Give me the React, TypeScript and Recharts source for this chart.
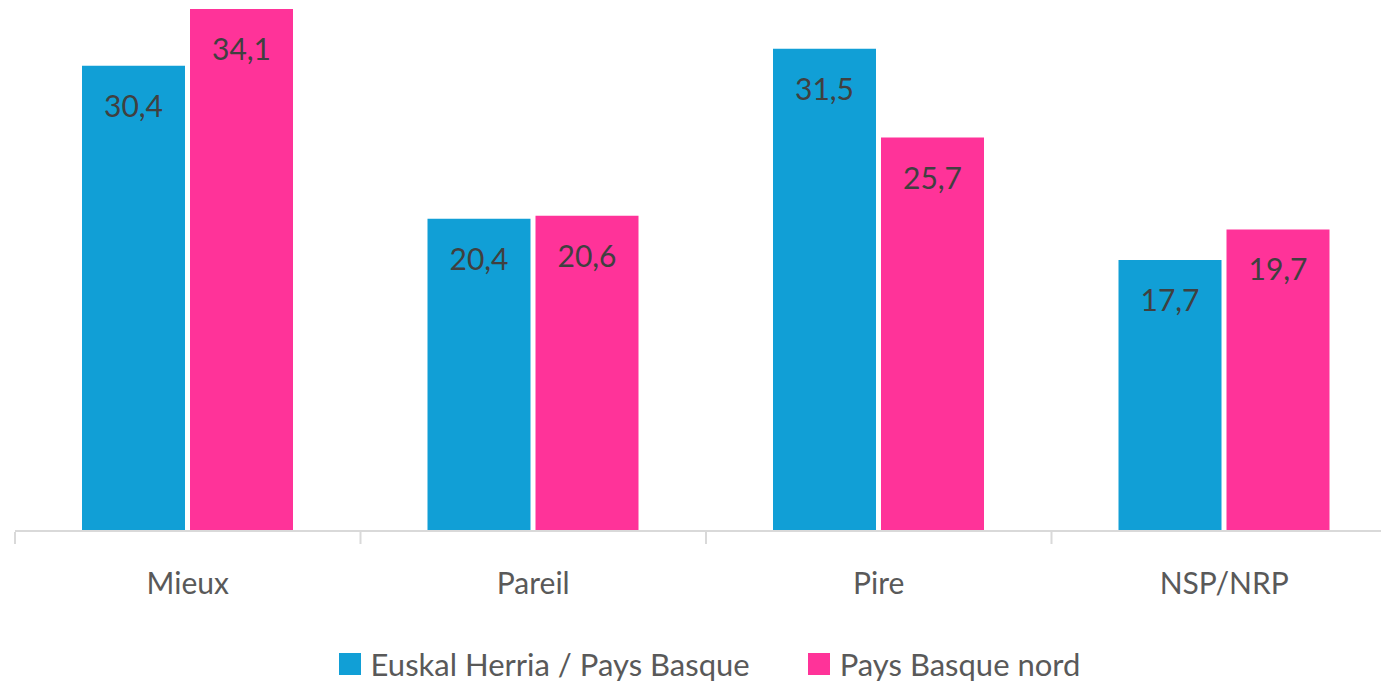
import React from "react";
import { BarChart, Bar, XAxis, YAxis, Legend, LabelList } from "recharts";

const categories = ["Mieux", "Pareil", "Pire", "NSP/NRP"];
const euskalHerria = [30.4, 20.4, 31.5, 17.7];
const paysBasqueNord = [34.1, 20.6, 25.7, 19.7];
const seriesNames = ["Euskal Herria / Pays Basque", "Pays Basque nord"];
const seriesColors = ["#119FD6", "#FF3399"];

const data = categories.map((c, i) => ({
  name: c,
  eh: euskalHerria[i],
  pbn: paysBasqueNord[i],
}));

const FONT = "Lato, 'Open Sans', sans-serif";
const CHART_W = 1400;
const MARGIN = { top: 9, right: 3, bottom: 0, left: 15 };
const BAND = (CHART_W - MARGIN.left - MARGIN.right) / categories.length;

const fmt = (v: number) => String(v).replace(".", ",");

const renderLabel = (props: any) => {
  const { x, y, width, value } = props;
  return (
    <text
      x={x + width / 2}
      y={y + 39}
      textAnchor="middle"
      dominantBaseline="central"
      fill="#404040"
      fontSize={30}
      fontFamily={FONT}
    >
      {fmt(value)}
    </text>
  );
};

const CatTick = (props: any) => {
  const { x, y, payload, index } = props;
  const left = x - BAND / 2;
  const right = x + BAND / 2;
  return (
    <g>
      <line x1={left} y1={y - 9} x2={left} y2={y + 3} stroke="#D9D9D9" strokeWidth={2} />
      {index === categories.length - 1 && (
        <line x1={right} y1={y - 9} x2={right} y2={y + 3} stroke="#D9D9D9" strokeWidth={2} />
      )}
      <text
        x={x}
        y={y + 41}
        textAnchor="middle"
        dominantBaseline="central"
        fill="#595959"
        fontSize={30}
        fontFamily={FONT}
      >
        {payload.value}
      </text>
    </g>
  );
};

const renderLegend = () => (
  <div
    style={{
      display: "flex",
      justifyContent: "center",
      alignItems: "center",
      fontFamily: FONT,
      fontSize: 31,
      color: "#595959",
      width: 1381,
      height: 60,
      paddingTop: 20,
      paddingLeft: 38,
      boxSizing: "border-box",
    }}
  >
    {seriesNames.map((n, i) => (
      <div key={n} style={{ display: "flex", alignItems: "center", marginRight: i === 0 ? 58 : 0 }}>
        <div style={{ width: 22, height: 22, background: seriesColors[i], marginRight: 10 }} />
        <span>{n}</span>
      </div>
    ))}
  </div>
);

export default function App() {
  return (
    <div
      style={{
        position: "absolute",
        left: 0,
        top: 0,
        width: 1381,
        height: 684,
        overflow: "hidden",
        background: "#fff",
      }}
    >
      <BarChart width={CHART_W} height={684} data={data} margin={MARGIN} barGap={5}>
        <XAxis
          dataKey="name"
          height={93}
          axisLine={{ stroke: "#D9D9D9", strokeWidth: 2 }}
          tickLine={false}
          tickSize={8}
          interval={0}
          tick={<CatTick />}
        />
        <YAxis hide domain={[0, 34.1]} />
        <Legend verticalAlign="bottom" height={60} content={renderLegend} wrapperStyle={{ left: 0, width: 1381 }} />
        <Bar dataKey="eh" fill={seriesColors[0]} barSize={103} isAnimationActive={false}>
          <LabelList dataKey="eh" content={renderLabel} />
        </Bar>
        <Bar dataKey="pbn" fill={seriesColors[1]} barSize={103} isAnimationActive={false}>
          <LabelList dataKey="pbn" content={renderLabel} />
        </Bar>
      </BarChart>
    </div>
  );
}
